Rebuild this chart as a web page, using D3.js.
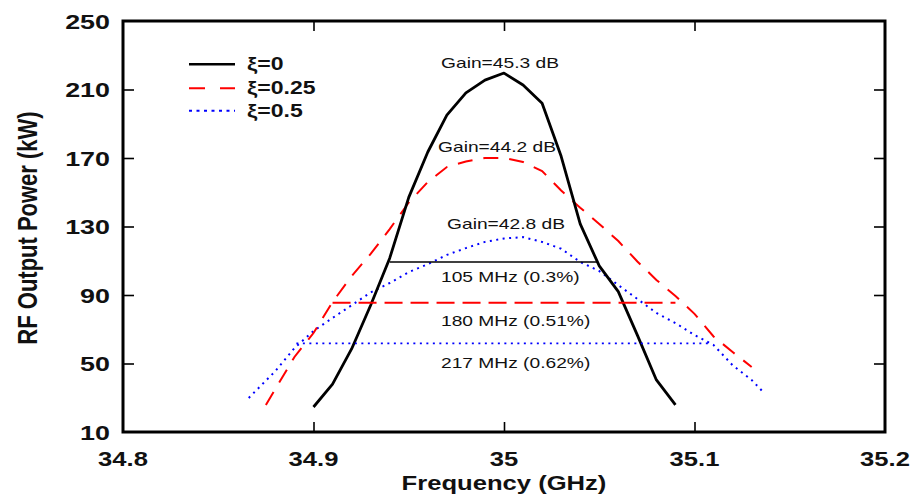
<!DOCTYPE html>
<html>
<head>
<meta charset="utf-8">
<script src="https://cdn.jsdelivr.net/npm/d3@7"></script>
<style>
  html, body { margin: 0; padding: 0; background: #fff; }
  svg { display: block; font-family: Arial, "Liberation Sans", sans-serif; }
</style>
</head>
<body>
<svg id="chart" width="914" height="501"></svg>
<script>
// ---------- data ----------
const xTicks = [34.8, 34.9, 35.0, 35.1, 35.2];
const xTickLabels = ["34.8", "34.9", "35", "35.1", "35.2"];
const yTicks = [10, 50, 90, 130, 170, 210, 250];

const seriesNames = ["\u03BE=0", "\u03BE=0.25", "\u03BE=0.5"];

const blackFreq = [34.90, 34.91, 34.92, 34.93, 34.94, 34.95, 34.96, 34.97, 34.98, 34.99,
                   35.00, 35.01, 35.02, 35.03, 35.04, 35.05, 35.06, 35.07, 35.08, 35.09];
const blackPower = [24.6, 38, 58.5, 84, 111.5, 147, 173.5, 195, 208, 215.5,
                    219.6, 212.6, 202, 171, 131.5, 107, 92, 66.6, 40.4, 25.8];

const redFreq = [34.875, 34.89, 34.90, 34.91, 34.92, 34.93, 34.94, 34.95, 34.96, 34.97,
                 34.98, 34.99, 35.00, 35.01, 35.02, 35.03, 35.04, 35.05, 35.06, 35.07,
                 35.08, 35.09, 35.10, 35.11, 35.12, 35.13];
const redPower = [25.8, 53.8, 67.8, 85.9, 101, 114, 128.5, 144, 156, 164.7,
                  168, 170, 170, 167.7, 162.4, 151, 141, 131.5, 121.5, 109.6,
                  98.8, 89.4, 79, 65.8, 56.7, 48];

const blueFreq = [34.866, 34.88, 34.89, 34.90, 34.91, 34.92, 34.93, 34.94, 34.95, 34.96,
                  34.97, 34.98, 34.99, 35.00, 35.01, 35.02, 35.03, 35.04, 35.05, 35.06,
                  35.07, 35.08, 35.09, 35.10, 35.11, 35.12, 35.13, 35.136];
const bluePower = [29.9, 45.6, 59, 69, 76.6, 84, 91.5, 97, 103.4, 108,
                   113.4, 117.4, 121, 123, 123.8, 121, 117, 109.3, 104, 95.8,
                   87.7, 79.5, 73.6, 66.6, 60.8, 49, 40.4, 33.4];

// bandwidth markers
const bandPower = [109.3, 85.5, 61.8];
const bandStart = [34.940, 34.910, 34.891];
const bandEnd   = [35.049, 35.090, 35.109];
const bandLabels = ["105 MHz (0.3%)", "180 MHz (0.51%)", "217 MHz (0.62%)"];

const gainLabels = ["Gain=45.3 dB", "Gain=44.2 dB", "Gain=42.8 dB"];

// ---------- layout ----------
const svg = d3.select("#chart");
const L = 123, R = 885, T = 21, B = 432;
const SX = 1.28; // horizontal text stretch

const x = d3.scaleLinear().domain([34.8, 35.2]).range([L, R]);
const y = d3.scaleLinear().domain([10, 250]).range([B, T]);

const colors = ["#000000", "#ff0000", "#0000ff"];

function stretchText(sel, px, py) {
  sel.attr("x", 0).attr("y", 0)
     .attr("transform", `translate(${px},${py}) scale(${SX},1)`);
}

// ---------- axes (inner ticks) ----------
const innerY = yTicks.filter(v => v !== 10 && v !== 250);
const innerX = xTicks.filter(v => v !== 34.8 && v !== 35.2);

const gLeft = svg.append("g").attr("transform", `translate(${L},0)`)
  .call(d3.axisLeft(y).tickValues(innerY).tickSize(-11).tickSizeOuter(0).tickFormat(""));
const gRight = svg.append("g").attr("transform", `translate(${R},0)`)
  .call(d3.axisRight(y).tickValues(innerY).tickSize(-11).tickSizeOuter(0).tickFormat(""));
const gTop = svg.append("g").attr("transform", `translate(0,${T})`)
  .call(d3.axisTop(x).tickValues(innerX).tickSize(-10).tickSizeOuter(0).tickFormat(""));
const gBot = svg.append("g").attr("transform", `translate(0,${B})`)
  .call(d3.axisBottom(x).tickValues(innerX).tickSize(-10).tickSizeOuter(0).tickFormat(""));
[gLeft, gRight, gTop, gBot].forEach(g => {
  g.select(".domain").remove();
  g.selectAll(".tick line").attr("stroke", "#000").attr("stroke-width", 1.6);
});

// tick labels
svg.append("g").selectAll("text").data(yTicks).join("text")
  .attr("text-anchor", "end")
  .attr("font-size", 21).attr("font-weight", "bold").attr("fill", "#111")
  .text(d => d)
  .each(function(d) { stretchText(d3.select(this), 110, y(d) + 7.5); });

svg.append("g").selectAll("text").data(xTicks).join("text")
  .attr("text-anchor", "middle")
  .attr("font-size", 20).attr("font-weight", "bold").attr("fill", "#111")
  .text((d, i) => xTickLabels[i])
  .each(function(d) { stretchText(d3.select(this), x(d), 466); });

// axis titles
svg.append("text")
  .attr("text-anchor", "middle").attr("font-size", 20).attr("font-weight", "bold").attr("fill", "#111")
  .text("Frequency (GHz)")
  .call(s => stretchText(s, 504, 490));

svg.append("text")
  .attr("text-anchor", "middle").attr("font-size", 22).attr("font-weight", "bold").attr("fill", "#111")
  .attr("x", 0).attr("y", 0)
  .attr("transform", `translate(37,228) scale(${SX},1) rotate(-90)`)
  .text("RF Output Power (kW)");

// ---------- curves ----------
const line = d3.line().x(d => x(d[0])).y(d => y(d[1]));
svg.append("defs").append("clipPath").attr("id", "plotclip")
  .append("rect").attr("x", L).attr("y", T).attr("width", R - L).attr("height", B - T);

const plot = svg.append("g").attr("clip-path", "url(#plotclip)");

const blackData = blackFreq.map((f, i) => [f, blackPower[i]]);
const redData = redFreq.map((f, i) => [f, redPower[i]]);
const blueData = blueFreq.map((f, i) => [f, bluePower[i]]);

plot.append("path").datum(blueData).attr("d", line)
  .attr("fill", "none").attr("stroke", colors[2]).attr("stroke-width", 2)
  .attr("stroke-dasharray", "2,4.5");
plot.append("path").datum(redData).attr("d", line)
  .attr("fill", "none").attr("stroke", colors[1]).attr("stroke-width", 2)
  .attr("stroke-dasharray", "15,11");
plot.append("path").datum(blackData).attr("d", line)
  .attr("fill", "none").attr("stroke", colors[0]).attr("stroke-width", 2.8)
  .attr("stroke-linejoin", "round");

// bandwidth lines
const bandDash = [null, "18,8", "2,4.5"];
const bandWidth = [1.6, 2, 1.8];
bandPower.forEach((p, i) => {
  plot.append("line")
    .attr("x1", x(bandStart[i])).attr("x2", x(bandEnd[i]))
    .attr("y1", y(p)).attr("y2", y(p))
    .attr("stroke", colors[i]).attr("stroke-width", bandWidth[i])
    .attr("stroke-dasharray", bandDash[i]);
});

// annotations
const gainPos = [[500, 67.5], [497, 152], [506, 229]];
gainLabels.forEach((t, i) => {
  svg.append("text").attr("text-anchor", "middle").attr("font-size", 15).attr("fill", "#111")
    .text(t).call(s => stretchText(s, gainPos[i][0], gainPos[i][1]));
});
const bandLabelY = [282, 325.5, 368];
bandLabels.forEach((t, i) => {
  svg.append("text").attr("text-anchor", "start").attr("font-size", 15).attr("fill", "#111")
    .text(t).call(s => stretchText(s, 441, bandLabelY[i]));
});

// ---------- legend ----------
const legY = [64.3, 88.3, 110.7];
const legDash = [null, "16,15", "3,4.5"];
const legW = [2.6, 2, 2];
seriesNames.forEach((n, i) => {
  svg.append("line").attr("x1", 189).attr("x2", 235).attr("y1", legY[i]).attr("y2", legY[i])
    .attr("stroke", colors[i]).attr("stroke-width", legW[i]).attr("stroke-dasharray", legDash[i]);
  svg.append("text").attr("font-size", 18).attr("font-weight", "bold").attr("fill", "#111")
    .text(n).call(s => stretchText(s, 247, legY[i] + 6));
});

// ---------- frame ----------
svg.append("rect").attr("x", L).attr("y", T).attr("width", R - L).attr("height", B - T)
  .attr("fill", "none").attr("stroke", "#000").attr("stroke-width", 3);
</script>
</body>
</html>
